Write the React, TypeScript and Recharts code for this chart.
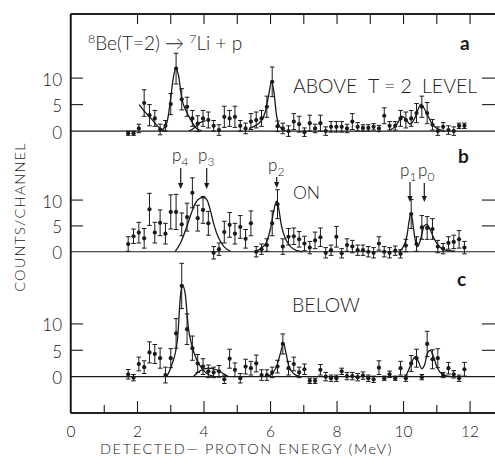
import React from "react";
import { ComposedChart, Scatter, Line, XAxis, YAxis, ErrorBar, ReferenceLine } from "recharts";

// channel energies (MeV), shared by all three spectra
const energy = [
  1.72, 1.88, 2.04, 2.2, 2.36, 2.52, 2.68, 2.84, 3.0, 3.16, 3.33, 3.49, 3.65, 3.81, 3.97, 4.13,
  4.29, 4.45, 4.61, 4.77, 4.93, 5.09, 5.25, 5.41, 5.57, 5.73, 5.89, 6.05, 6.21, 6.37, 6.54, 6.7,
  6.86, 7.02, 7.18, 7.34, 7.5, 7.66, 7.82, 7.98, 8.14, 8.3, 8.46, 8.62, 8.78, 8.94, 9.1, 9.26,
  9.42, 9.58, 9.75, 9.91, 10.07, 10.23, 10.39, 10.55, 10.71, 10.87, 11.03, 11.19, 11.35, 11.51, 11.67, 11.83,
];

// (a) above T=2 level
const aCounts = [
  -0.4, -0.4, 0.5, 5.3, 3.0, 2.4, 0.3, 1.0, 5.1, 11.8, 6.0, 4.6, 2.4, 1.4, 2.4, 2.1,
  1.0, 0.2, 2.7, 2.4, 2.7, 1.0, 0.5, 1.8, 2.1, 2.4, 4.6, 9.3, 0.9, 0.5, 0.0, 1.8,
  1.3, -0.2, 1.5, 0.5, 1.5, 0.0, 0.8, 0.8, 0.8, 0.5, 1.8, 0.8, 0.6, 0.6, 0.8, 0.5,
  2.9, 1.0, 1.0, 2.4, 2.1, 2.4, 3.4, 4.6, 3.4, 1.2, 0.0, 0.8, 0.2, 0.0, 1.0, 1.0,
];
const aErr = [
  0.4, 0.4, 0.8, 2.5, 2.0, 1.5, 1.0, 1.0, 2.0, 2.9, 2.0, 1.8, 1.5, 1.5, 1.5, 1.5,
  1.0, 1.0, 2.0, 1.5, 2.0, 1.0, 1.0, 1.5, 1.5, 1.5, 2.0, 2.8, 1.0, 1.0, 1.0, 1.5,
  1.5, 0.8, 1.5, 0.8, 1.5, 0.8, 1.0, 1.0, 1.0, 0.8, 1.5, 0.8, 0.6, 0.6, 0.6, 0.6,
  1.5, 0.8, 0.8, 1.5, 1.5, 1.5, 1.8, 2.0, 2.0, 1.0, 0.8, 0.8, 0.8, 0.8, 0.5, 0.5,
];

// (b) on the level
const bCounts = [
  1.5, 3.0, 3.7, 2.6, 8.2, 3.7, 5.6, 3.5, 7.7, 7.7, 5.3, 6.7, 11.4, 6.5, 8.1, 5.5,
  -0.2, 0.5, 3.8, 5.2, 3.5, 4.8, 2.5, 5.5, 0.0, 0.5, 1.3, 5.5, 9.2, 1.0, 2.9, 3.0,
  2.4, 1.6, 0.8, 2.2, 2.8, -0.2, 0.3, 2.9, -0.3, 1.3, 1.0, 0.3, 0.3, 0.0, -0.2, 1.6,
  0.0, -0.2, 0.2, -0.4, 1.2, 7.3, 1.5, 4.7, 4.6, 4.4, 1.0, 0.6, 1.7, 1.9, 2.4, 0.8,
];
const bErr = [
  1.4, 1.4, 2.0, 1.9, 3.1, 2.0, 2.5, 2.0, 3.3, 3.4, 2.2, 2.7, 2.9, 2.5, 2.6, 2.3,
  1.2, 1.2, 2.1, 2.4, 2.0, 2.2, 1.8, 2.4, 1.0, 1.0, 1.2, 2.4, 2.8, 1.5, 1.6, 1.6,
  1.5, 1.4, 1.2, 1.6, 1.8, 1.0, 1.0, 2.0, 0.9, 1.2, 1.2, 1.0, 1.0, 1.0, 1.0, 1.3,
  1.0, 1.0, 0.9, 0.8, 1.2, 2.8, 1.4, 2.3, 2.2, 2.0, 1.2, 1.0, 1.2, 1.3, 1.7, 1.2,
];

// (c) below
const cCounts = [
  0.45, -0.2, 2.4, 1.8, 4.6, 4.3, 3.5, 0.3, 3.5, 8.2, 17.2, 9.0, 5.4, 2.5, 1.9, 1.0,
  0.8, 1.0, -0.5, 3.4, 1.3, -0.3, 1.9, 1.6, 2.5, 0.3, 0.3, 0.8, 1.9, 6.2, 1.6, 2.4,
  0.8, 1.4, -0.8, -0.8, 1.3, 0.0, -0.3, -0.3, 1.0, 0.1, 0.1, -0.1, 0.2, -0.3, -0.5, 1.7,
  -0.3, 0.45, -0.3, 1.6, -0.3, 2.5, 3.5, -0.1, 6.2, 3.3, 3.5, 0.3, 1.6, 0.45, -0.3, 1.4,
];
const cErr = [
  0.9, 0.6, 1.3, 1.2, 2.0, 1.8, 1.9, 1.5, 1.8, 2.8, 4.3, 2.9, 2.3, 1.7, 1.5, 1.2,
  1.0, 1.1, 0.8, 1.8, 1.3, 0.9, 1.4, 1.3, 1.6, 1.0, 1.0, 1.0, 1.2, 1.9, 1.3, 1.3,
  1.0, 1.0, 0.5, 0.5, 1.0, 0.8, 0.6, 0.6, 0.6, 0.7, 0.7, 0.7, 0.7, 0.6, 0.6, 1.3,
  0.4, 0.6, 0.4, 1.3, 0.6, 1.5, 1.7, 0.5, 2.4, 1.8, 1.8, 0.5, 1.1, 0.7, 0.6, 1.3,
];

// fitted curves as [MeV, counts]
const aTail = [[2.05, 5.0], [2.2, 3.8], [2.38, 2.6], [2.55, 1.3], [2.7, 0.4], [2.82, 0.1]];
const aPeak1 = [[2.7, 0.1], [2.8, 0.6], [2.9, 2.0], [2.98, 5.3], [3.08, 10.2], [3.15, 11.8], [3.23, 10.6], [3.33, 6.2], [3.48, 3.6], [3.63, 1.8], [3.78, 0.5], [3.93, 0.05]];
const aBump = [[3.55, 0], [3.7, 0.6], [3.88, 1.6], [4.05, 2.0]];
const aPeak2 = [[5.35, 0.5], [5.5, 0.9], [5.7, 1.8], [5.85, 3.8], [5.95, 7.0], [6.03, 9.4], [6.1, 7.5], [6.18, 3.0], [6.28, 0.8], [6.45, 0.1]];
const aPeak3 = [[9.6, 0.3], [9.74, 0.8], [9.85, 1.8], [9.94, 2.8], [10.05, 2.4], [10.2, 1.3], [10.35, 2.6], [10.45, 4.3], [10.52, 5.1], [10.6, 4.5], [10.7, 3.3], [10.85, 1.45], [11.0, 0.5], [11.15, 0.2]];
const bP3 = [[3.13, 0], [3.3, 1.8], [3.48, 4.8], [3.62, 7.5], [3.75, 9.5], [3.9, 10.4], [4.0, 10.5], [4.1, 9.9], [4.2, 7.8], [4.3, 5.2], [4.45, 2.5], [4.6, 1.0], [4.8, 0.1]];
const bP2 = [[5.5, 0], [5.7, 0.6], [5.88, 1.9], [6.0, 4.5], [6.1, 8.0], [6.18, 9.8], [6.25, 8.2], [6.33, 5.0], [6.45, 2.5], [6.6, 1.0], [6.8, 0.2], [6.95, 0]];
const bP10 = [[9.85, 0], [10.0, 1.0], [10.1, 3.0], [10.17, 6.0], [10.22, 7.5], [10.28, 5.5], [10.34, 2.6], [10.43, 1.0], [10.52, 2.6], [10.62, 5.0], [10.7, 5.3], [10.8, 4.3], [10.9, 2.8], [11.0, 1.6], [11.15, 0.6], [11.35, 0.2], [11.55, 0.1]];
const cPeak1 = [[2.88, 0], [3.03, 2.2], [3.2, 7.0], [3.3, 15.9], [3.35, 17.3], [3.43, 15.9], [3.53, 9.2], [3.63, 6.0], [3.78, 3.2], [3.93, 1.6], [4.08, 0.6], [4.28, 0.1]];
const cBump = [[3.68, 0], [3.88, 1.1], [4.13, 1.6], [4.33, 1.4], [4.58, 0.6], [4.73, 0]];
const cPeak2 = [[5.88, 0], [6.05, 0.6], [6.18, 1.9], [6.3, 4.5], [6.39, 6.3], [6.47, 4.3], [6.54, 2.2], [6.69, 0.6], [6.89, 0]];
const cPeak3 = [[10.05, 0], [10.15, 1.2], [10.25, 2.8], [10.35, 3.8], [10.45, 2.8], [10.55, 1.5], [10.63, 2.2], [10.73, 4.6], [10.8, 5.0], [10.9, 3.8], [11.0, 1.9], [11.1, 0.8], [11.25, 0.2], [11.45, 0]];

const xTicks = [0, 1, 2, 3, 4, 5, 6, 7, 8, 9, 10, 11, 12];
const topTicks = [2, 3, 4, 5, 6, 7, 8, 9, 10, 11, 12];
const yTicks = [0, 5, 10];

const INK = "#1a1a1a";
const FONT = "Lato, 'Liberation Sans', sans-serif";
const PLOT_LEFT = 71;
const PLOT_RIGHT = 495;
const PLOT_TOP = 14;
const PLOT_BOTTOM = 413;

const toPoints = (counts: number[], err: number[]) =>
  energy.map((x, i) => ({ x, y: counts[i], e: err[i] }));
const toCurve = (pts: number[][]) => pts.map(([x, y]) => ({ x, y }));

const panels = [
  { id: "a", domain: [-53.2, 22.1], pts: toPoints(aCounts, aErr), curves: [aTail, aPeak1, aBump, aPeak2, aPeak3] },
  { id: "b", domain: [-31.2, 46.0], pts: toPoints(bCounts, bErr), curves: [bP3, bP2, bP10] },
  { id: "c", domain: [-6.9, 68.8], pts: toPoints(cCounts, cErr), curves: [cPeak1, cBump, cPeak2, cPeak3] },
];

const Dot = (p: any) => <circle cx={p.cx} cy={p.cy} r={2.1} fill={INK} />;

// left tick (inward), label, and matching short tick on the right edge
const YTick = ({ y, payload }: any) => (
  <g>
    {payload.value !== 0 && (
      <line x1={PLOT_LEFT} x2={PLOT_LEFT + 12} y1={y} y2={y} stroke={INK} strokeWidth={1.1} />
    )}
    {payload.value !== 0 && (
      <line x1={PLOT_RIGHT - 13} x2={PLOT_RIGHT} y1={y} y2={y} stroke={INK} strokeWidth={1.1} />
    )}
    <text x={PLOT_LEFT - 9} y={y + 1} textAnchor="end" dominantBaseline="central" fontSize={17} fontFamily={FONT} fontWeight={300} fill={INK}>
      {payload.value}
    </text>
  </g>
);

// bottom tick: inward line (longer on even MeV) and label on even values
const BottomTick = ({ x, y, payload }: any) => {
  const v = payload.value;
  const major = v % 2 === 0;
  return (
    <g>
      {v > 0 && <line x1={x} x2={x} y1={y} y2={y - (major ? 12 : 8)} stroke={INK} strokeWidth={1.1} />}
      {v === 0 && <line x1={x} x2={x} y1={y} y2={PLOT_TOP} stroke={INK} strokeWidth={1.3} />}
      {v === 0 && <line x1={x} x2={PLOT_RIGHT} y1={y} y2={y} stroke={INK} strokeWidth={1.3} />}
      {major && (
        <text x={x} y={y + 24} textAnchor="middle" fontSize={15.5} fontFamily={FONT} fontWeight={300} fill={INK}>
          {v}
        </text>
      )}
    </g>
  );
};

const TopTick = ({ x, y, payload }: any) => (
  <g>
    {payload.value === 2 && <line x1={PLOT_LEFT} x2={PLOT_RIGHT} y1={y} y2={y} stroke={INK} strokeWidth={1.3} />}
    <line x1={x} x2={x} y1={y} y2={y + 10} stroke={INK} strokeWidth={1.1} />
  </g>
);

const Arrow = ({ x, y1, y2 }: { x: number; y1: number; y2: number }) => (
  <g>
    <line x1={x} x2={x} y1={y1} y2={y2 - 4} stroke={INK} strokeWidth={1.2} />
    <polygon points={`${x - 2.6},${y2 - 6} ${x + 2.6},${y2 - 6} ${x},${y2}`} fill={INK} />
  </g>
);

const Sub = ({ x, y, main, sub }: { x: number; y: number; main: string; sub: string }) => (
  <text x={x} y={y} fontSize={17}>
    {main}
    <tspan fontSize={12} dy={5}>{sub}</tspan>
  </text>
);

export default function App() {
  return (
    <div style={{ position: "absolute", left: 0, top: 0, width: 495, height: 468, background: "#fff" }}>
      <ComposedChart width={495} height={468} margin={{ top: 13, right: 0, bottom: 54, left: 68 }}>
        <XAxis
          dataKey="x"
          type="number"
          domain={[0, 12.75]}
          allowDataOverflow
          ticks={xTicks}
          interval={0}
          height={1}
          tickSize={0}
          tickMargin={0}
          tickLine={false}
          axisLine={false}
          tick={<BottomTick />}
        />
        <XAxis
          xAxisId="top"
          orientation="top"
          dataKey="x"
          type="number"
          domain={[0, 12.75]}
          allowDataOverflow
          ticks={topTicks}
          interval={0}
          height={1}
          tickSize={0}
          tickMargin={0}
          tickLine={false}
          axisLine={false}
          tick={<TopTick />}
        />
        {panels.map((p) => (
          <YAxis
            key={p.id}
            yAxisId={p.id}
            dataKey="y"
            type="number"
            domain={p.domain}
            allowDataOverflow
            ticks={yTicks}
            interval={0}
            width={1}
            tickSize={0}
            tickMargin={0}
            tickLine={false}
            axisLine={false}
            tick={<YTick />}
          />
        ))}
        {panels.map((p) => (
          <ReferenceLine key={"z" + p.id} yAxisId={p.id} y={0} stroke={INK} strokeWidth={1.1} />
        ))}
        {panels.map((p) =>
          p.curves.map((c, j) => (
            <Line
              key={p.id + "c" + j}
              yAxisId={p.id}
              data={toCurve(c)}
              dataKey="y"
              type="monotone"
              stroke={INK}
              strokeWidth={1.3}
              dot={false}
              activeDot={false}
              isAnimationActive={false}
            />
          ))
        )}
        {panels.map((p) => (
          <Scatter key={"s" + p.id} yAxisId={p.id} data={p.pts} shape={<Dot />} isAnimationActive={false}>
            <ErrorBar dataKey="e" direction="y" width={2.3} stroke={INK} strokeWidth={1} />
          </Scatter>
        ))}
      </ComposedChart>

      <svg width={495} height={468} style={{ position: "absolute", left: 0, top: 0, pointerEvents: "none" }}>
        <line x1={PLOT_LEFT - 0.5} x2={PLOT_LEFT - 0.5} y1={PLOT_TOP} y2={PLOT_BOTTOM} stroke="#111" strokeWidth={1.4} />
        <line x1={PLOT_LEFT - 0.5} x2={PLOT_RIGHT} y1={PLOT_TOP} y2={PLOT_TOP} stroke="#111" strokeWidth={1.4} />
        <line x1={PLOT_LEFT - 0.5} x2={PLOT_RIGHT} y1={PLOT_BOTTOM} y2={PLOT_BOTTOM} stroke="#111" strokeWidth={1.4} />
        <g fontFamily={FONT} fontWeight={300} fill={INK}>
          <text x={88} y={50} fontSize={19}>
            <tspan fontSize={12.5} dy={-7}>8</tspan>
            <tspan dy={7}>Be(T=2)</tspan>
            <tspan> → </tspan>
            <tspan fontSize={12.5} dy={-7}>7</tspan>
            <tspan dy={7}>Li + p</tspan>
          </text>
          <text x={460} y={50} fontSize={19} fontWeight="bold">a</text>
          <text x={458} y={163} fontSize={19} fontWeight="bold">b</text>
          <text x={457} y={286} fontSize={19} fontWeight="bold">c</text>
          <text x={293} y={93} fontSize={19.5}>ABOVE</text>
          <text x={368} y={93} fontSize={19.5}>T = 2</text>
          <text x={422} y={93} fontSize={19.5}>LEVEL</text>
          <text x={293} y={199} fontSize={17.5}>ON</text>
          <text x={292} y={312} fontSize={19.5}>BELOW</text>
          <Sub x={172} y={161} main="p" sub="4" />
          <Sub x={198} y={161} main="p" sub="3" />
          <Sub x={268} y={171} main="p" sub="2" />
          <Sub x={400} y={176} main="p" sub="1" />
          <Sub x={418} y={176} main="p" sub="0" />
          <text x={100} y={454} fontSize={14.5} letterSpacing={1.6}>DETECTED— PROTON ENERGY (MeV)</text>
          <text x={25} y={217} fontSize={14.5} letterSpacing={1.2} textAnchor="middle" transform="rotate(-90 25 217)">
            COUNTS/CHANNEL
          </text>
        </g>
        <Arrow x={180.7} y1={168} y2={189} />
        <Arrow x={206.7} y1={168} y2={189} />
        <Arrow x={276.7} y1={177} y2={188} />
        <Arrow x={410} y1={182} y2={202} />
        <Arrow x={424.3} y1={183} y2={202} />
      </svg>
    </div>
  );
}
